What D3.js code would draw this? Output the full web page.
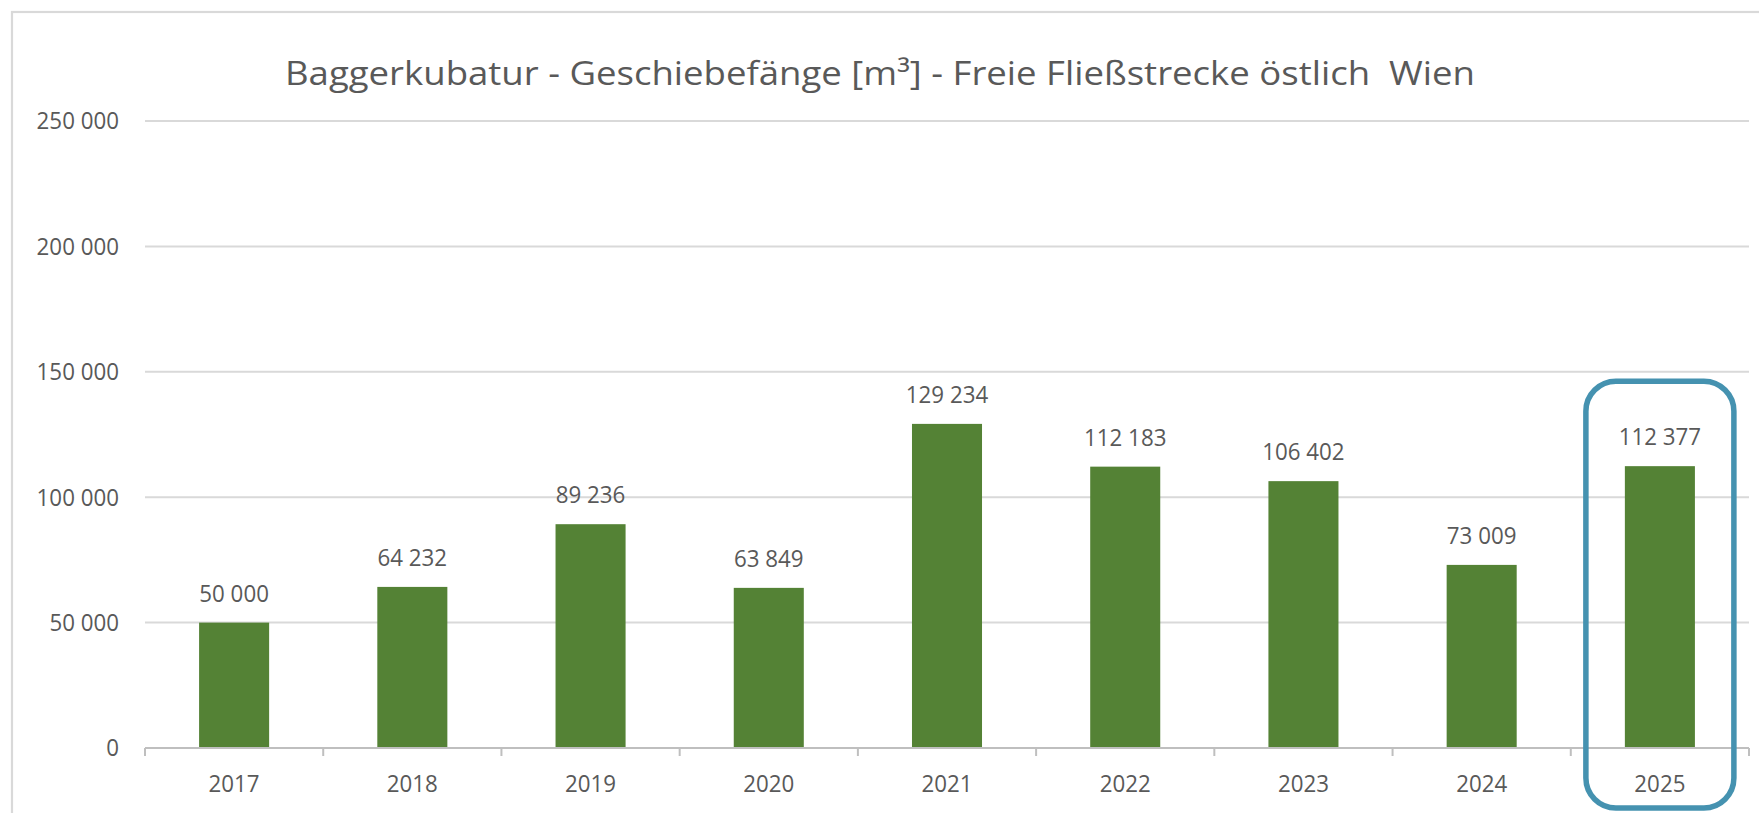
<!DOCTYPE html>
<html>
<head>
<meta charset="utf-8">
<script src="https://cdn.jsdelivr.net/npm/d3@7"></script>
<style>
html,body{margin:0;padding:0;background:#fff;}
svg{display:block;}
text{font-family:"Open Sans","Noto Sans",sans-serif;fill:#595959;}
</style>
</head>
<body>
<svg id="chart" width="1759" height="813"></svg>
<script>
const title = "Baggerkubatur - Geschiebefänge [m³] - Freie Fließstrecke östlich  Wien";
const years = ["2017","2018","2019","2020","2021","2022","2023","2024","2025"];
const volumes = [50000, 64232, 89236, 63849, 129234, 112183, 106402, 73009, 112377];
const yTicks = [0, 50000, 100000, 150000, 200000, 250000];
const highlightYear = "2025";

const W = 1759, H = 813;
const m = {left:145, right:10, top:121, bottom:65};
const svg = d3.select("#chart");

const fmt = v => d3.format(",")(v).replace(/,/g, " ");

// chart border (top & left visible)
svg.append("rect").attr("x",12).attr("y",12).attr("width",W+20).attr("height",H+20)
  .attr("fill","none").attr("stroke","#d9d9d9").attr("stroke-width",2.2);

const x = d3.scaleBand().domain(years).range([m.left, W - m.right]).paddingInner(0.607).paddingOuter(0.3035);
const xOuter = d3.scaleBand().domain(years).range([m.left, W - m.right]).padding(0);
const y = d3.scaleLinear().domain([0, 250000]).range([H - m.bottom, m.top]);

// gridlines
svg.append("g").selectAll("line").data(yTicks.filter(d=>d>0)).join("line")
  .attr("x1", m.left).attr("x2", W - m.right)
  .attr("y1", d=>y(d)).attr("y2", d=>y(d))
  .attr("stroke","#d9d9d9").attr("stroke-width",2);

// y labels
function squeeze(sel, f){ sel.each(function(){ const l=this.getComputedTextLength(); d3.select(this).attr("textLength", l*f).attr("lengthAdjust","spacingAndGlyphs"); }); }
const yl = svg.append("g").selectAll("text").data(yTicks).join("text")
  .attr("x", 119).attr("y", d=>y(d)).attr("dy","0.35em")
  .attr("text-anchor","end").attr("font-size",24).text(d=>fmt(d));
squeeze(yl, 0.93);

// bars
svg.append("g").selectAll("rect").data(volumes).join("rect")
  .attr("x",(d,i)=>x(years[i])).attr("width",x.bandwidth())
  .attr("y",d=>y(d)).attr("height",d=>y(0)-y(d))
  .attr("fill","#548235");

// x axis line with ticks
const xAxis = d3.axisBottom(xOuter).tickSize(0).tickFormat("");
const ax = svg.append("g").attr("transform",`translate(0,${y(0)})`);
ax.append("line").attr("x1",m.left).attr("x2",W-m.right).attr("y1",0).attr("y2",0)
  .attr("stroke","#bfbfbf").attr("stroke-width",2);
const tickPos = years.map(d=>xOuter(d)).concat([xOuter(years[years.length-1])+xOuter.bandwidth()]);
ax.selectAll("line.tk").data(tickPos).join("line").attr("class","tk")
  .attr("x1",d=>d).attr("x2",d=>d).attr("y1",0).attr("y2",8)
  .attr("stroke","#bfbfbf").attr("stroke-width",2);
const xl = ax.selectAll("text.cat").data(years).join("text").attr("class","cat")
  .attr("x",d=>xOuter(d)+xOuter.bandwidth()/2).attr("y",44)
  .attr("text-anchor","middle").attr("font-size",24).text(d=>d);
squeeze(xl, 0.93);

// data labels
const dl = svg.append("g").selectAll("text").data(volumes).join("text")
  .attr("x",(d,i)=>x(years[i])+x.bandwidth()/2).attr("y",d=>y(d)-21)
  .attr("text-anchor","middle").attr("font-size",24).text(d=>fmt(d));
squeeze(dl, 0.93);

// title
svg.append("text").attr("x",285).attr("y",85).attr("font-size",33)
  .attr("textLength",1190).attr("lengthAdjust","spacingAndGlyphs")
  .style("white-space","pre").text(title);

// highlight box around 2025
const hi = years.indexOf(highlightYear);
const cx = xOuter(highlightYear) + xOuter.bandwidth()/2;
svg.append("rect")
  .attr("x", cx - 74).attr("width", 148)
  .attr("y", y(volumes[hi]) - 85).attr("height", 808 - (y(volumes[hi]) - 85))
  .attr("rx", 30).attr("ry", 30)
  .attr("fill","none").attr("stroke","#4592b0").attr("stroke-width",5.5);
</script>
</body>
</html>
